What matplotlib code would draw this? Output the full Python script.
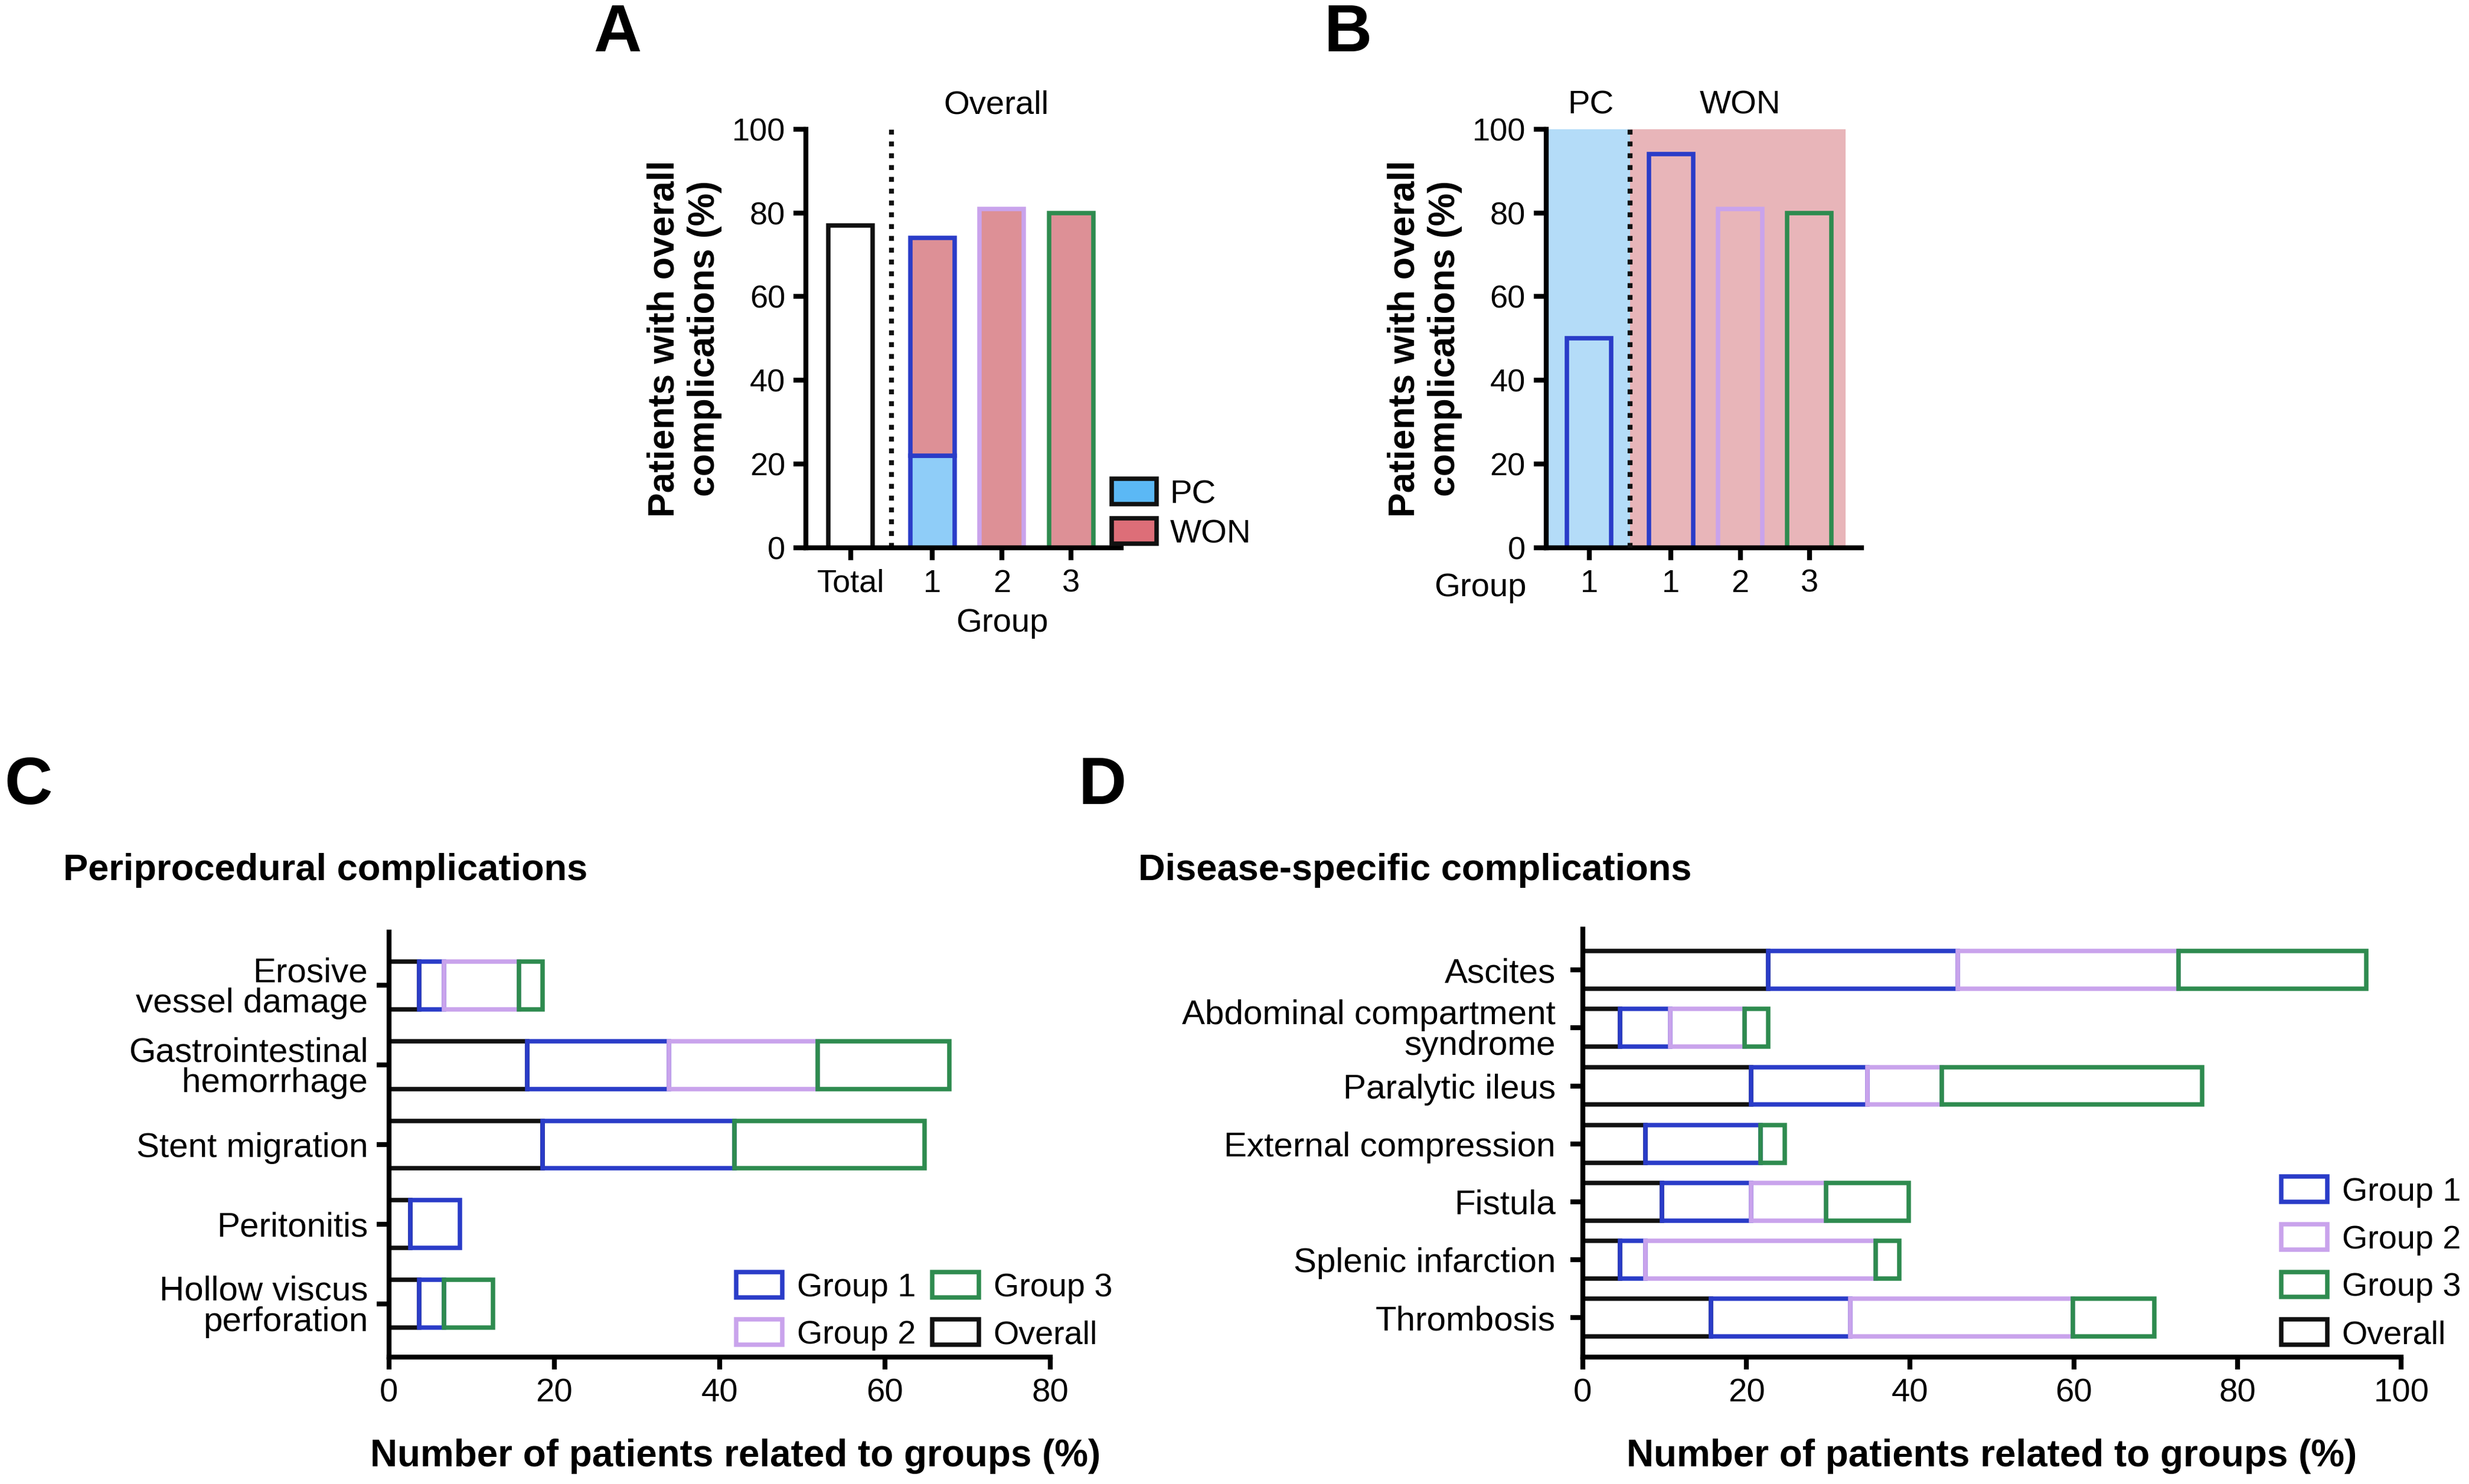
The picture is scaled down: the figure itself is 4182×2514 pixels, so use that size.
import matplotlib.pyplot as plt
from matplotlib.patches import Patch

plt.rcParams['font.family'] = ['Liberation Sans', 'DejaVu Sans']

# ---- data ----
a_labels = ['Total', '1', '2', '3']
a_total = 77
a_pc = [22, 0, 0]          # group 1..3, PC part
a_won = [52, 81, 80]       # group 1..3, WON part (stacked on PC)

b_labels = ['1', '1', '2', '3']
b_values = [50, 94, 81, 80]   # PC group 1, WON group 1..3

c_cats = ['Erosive\nvessel damage', 'Gastrointestinal\nhemorrhage', 'Stent migration',
          'Peritonitis', 'Hollow viscus\nperforation']
c_overall = [3.7, 16.7, 18.6, 2.6, 3.7]
c_g1 = [3.0, 17.2, 23.2, 6.0, 3.0]
c_g2 = [9.0, 18.0, 0, 0, 0]
c_g3 = [2.9, 15.9, 23.0, 0, 5.9]

d_cats = ['Ascites', 'Abdominal compartment\nsyndrome', 'Paralytic ileus',
          'External compression', 'Fistula', 'Splenic infarction', 'Thrombosis']
d_overall = [22.7, 4.6, 20.6, 7.7, 9.7, 4.6, 15.7]
d_g1 = [23.1, 6.1, 14.2, 14.0, 10.9, 3.1, 17.0]
d_g2 = [27.0, 9.1, 9.1, 0, 9.1, 28.1, 27.2]
d_g3 = [22.9, 2.9, 31.8, 3.0, 10.1, 2.9, 9.9]

BLUE = '#2a3cc8'
PURPLE = '#c9a3ec'
GREEN = '#2e8b4f'
BLACK = '#111111'
PC_FILL = '#8fcdf8'
WON_FILL = '#dd9096'
PC_BG = '#b4dcf8'
WON_BG = '#e8b5b9'

FS = 13
LW = 1.8
fig = plt.figure(figsize=(13.94, 8.38), dpi=300)


def style_axes(ax):
    for s in ['top', 'right']:
        ax.spines[s].set_visible(False)
    for s in ['left', 'bottom']:
        ax.spines[s].set_linewidth(2.0)
    ax.tick_params(width=2.0, length=5, labelsize=FS)


# ---- panel A ----
axA = fig.add_axes([0.3265, 0.6308, 0.1276, 0.2822])
style_axes(axA)
xa = [0, 1.18, 2.18, 3.18]
w = 0.64
axA.bar(xa[0], a_total, w, facecolor='white', edgecolor=BLACK, linewidth=LW)
edges = [BLUE, PURPLE, GREEN]
for i in range(3):
    if a_pc[i] > 0:
        axA.bar(xa[i + 1], a_pc[i], w, facecolor=PC_FILL, edgecolor=edges[i], linewidth=LW)
    axA.bar(xa[i + 1], a_won[i], w, bottom=a_pc[i], facecolor=WON_FILL,
            edgecolor=edges[i], linewidth=LW)
axA.axvline(0.59, ymin=0, ymax=1, color=BLACK, linestyle=(0, (1, 1.4)), linewidth=2.0)
axA.set_xlim(-0.64, 3.9)
axA.set_ylim(0, 100)
axA.set_yticks([0, 20, 40, 60, 80, 100])
axA.set_xticks(xa)
axA.set_xticklabels(a_labels)
axA.set_ylabel('Patients with overall\ncomplications (%)', fontsize=15,
               fontweight='bold', labelpad=4)
axA.text(2.1, 102, 'Overall', ha='center', va='bottom', fontsize=13.5)
axA.text(2.18, -18, 'Group', ha='center', va='center', fontsize=13.5, clip_on=False)
axA.legend(handles=[Patch(facecolor='#5bb8f5', edgecolor=BLACK, linewidth=LW, label='PC'),
                    Patch(facecolor='#dd6e78', edgecolor=BLACK, linewidth=LW, label='WON')],
           loc='upper left', bbox_to_anchor=(0.97, 0.165), frameon=False, fontsize=13.5,
           handlelength=1.35, handleheight=0.8, handletextpad=0.4, labelspacing=0.25,
           borderaxespad=0, borderpad=0)

# ---- panel B ----
axB = fig.add_axes([0.6263, 0.6308, 0.1276, 0.2822])
style_axes(axB)
xb = [0, 1.18, 2.18, 3.18]
axB.axvspan(-0.62, 0.59, color=PC_BG, zorder=0, linewidth=0)
axB.axvspan(0.59, 3.7, color=WON_BG, zorder=0, linewidth=0)
b_edges = [BLUE, BLUE, PURPLE, GREEN]
for i in range(4):
    axB.bar(xb[i], b_values[i], w, facecolor='none', edgecolor=b_edges[i], linewidth=LW, zorder=2)
axB.axvline(0.59, color=BLACK, linestyle=(0, (1, 1.4)), linewidth=2.0, zorder=3)
axB.set_xlim(-0.62, 3.93)
axB.set_ylim(0, 100)
axB.set_yticks([0, 20, 40, 60, 80, 100])
axB.set_xticks(xb)
axB.set_xticklabels(b_labels)
axB.set_ylabel('Patients with overall\ncomplications (%)', fontsize=15,
               fontweight='bold', labelpad=4)
axB.text(0.02, 102, 'PC', ha='center', va='bottom', fontsize=13.5)
axB.text(2.18, 102, 'WON', ha='center', va='bottom', fontsize=13.5)
axB.text(-1.57, -9.6, 'Group', ha='center', va='center', fontsize=13.5, clip_on=False)


# ---- panels C and D ----
def stacked(ax, cats, series, height):
    colors = [BLACK, BLUE, PURPLE, GREEN]
    y = list(range(len(cats)))
    left = [0.0] * len(cats)
    for vals, col in zip(series, colors):
        for i, v in enumerate(vals):
            if v > 0:
                ax.barh(y[i], v, height, left=left[i], facecolor='none',
                        edgecolor=col, linewidth=LW)
            left[i] += v
    ax.set_yticks(y)
    ax.set_yticklabels(cats, linespacing=0.95, fontsize=14)


def group_handles():
    return [Patch(facecolor='white', edgecolor=BLUE, linewidth=LW, label='Group 1'),
            Patch(facecolor='white', edgecolor=PURPLE, linewidth=LW, label='Group 2'),
            Patch(facecolor='white', edgecolor=GREEN, linewidth=LW, label='Group 3'),
            Patch(facecolor='white', edgecolor=BLACK, linewidth=LW, label='Overall')]


axC = fig.add_axes([0.1575, 0.0855, 0.2679, 0.2864])
style_axes(axC)
stacked(axC, c_cats, [c_overall, c_g1, c_g2, c_g3], 0.6)
axC.set_xlim(0, 80)
axC.set_ylim(4.67, -0.67)
axC.set_xticks([0, 20, 40, 60, 80])
axC.tick_params(axis='x', labelsize=13.5)
axC.set_xlabel('Number of patients related to groups (%)', fontsize=15.3,
               fontweight='bold')
axC.xaxis.set_label_coords(0.524, -0.233)
axC.xaxis.label.set_va('center')
axC.legend(handles=group_handles(), ncol=2, loc='lower left',
           bbox_to_anchor=(0.525, 0.015), frameon=False, fontsize=13.4,
           handlelength=1.4, handleheight=0.8, handletextpad=0.45,
           labelspacing=0.5, columnspacing=0.5, borderaxespad=0, borderpad=0)

axD = fig.add_axes([0.641, 0.0855, 0.3316, 0.2886])
style_axes(axD)
stacked(axD, d_cats, [d_overall, d_g1, d_g2, d_g3], 0.65)
axD.set_xlim(0, 100)
axD.set_ylim(6.68, -0.71)
axD.set_xticks([0, 20, 40, 60, 80, 100])
axD.tick_params(axis='x', labelsize=13.5)
axD.tick_params(axis='y', pad=6)
axD.set_xlabel('Number of patients related to groups (%)', fontsize=15.3,
               fontweight='bold')
axD.xaxis.set_label_coords(0.5, -0.232)
axD.xaxis.label.set_va('center')
axD.legend(handles=group_handles(), loc='lower left', bbox_to_anchor=(0.853, 0.015),
           frameon=False, fontsize=13.4, handlelength=1.4, handleheight=0.8,
           handletextpad=0.45, labelspacing=0.5, borderaxespad=0, borderpad=0)

# ---- panel letters and titles ----
fig.text(0.25, 0.977, 'A', fontsize=27, fontweight='bold', ha='center', va='center')
fig.text(0.546, 0.977, 'B', fontsize=27, fontweight='bold', ha='center', va='center')
fig.text(0.0115, 0.4696, 'C', fontsize=27, fontweight='bold', ha='center', va='center')
fig.text(0.4464, 0.4696, 'D', fontsize=27, fontweight='bold', ha='center', va='center')
fig.text(0.0255, 0.4133, 'Periprocedural complications', fontsize=15.2, fontweight='bold',
         ha='left', va='center')
fig.text(0.461, 0.4133, 'Disease-specific complications', fontsize=15.2, fontweight='bold',
         ha='left', va='center')

fig.savefig('out.png', dpi=300, facecolor='white')
